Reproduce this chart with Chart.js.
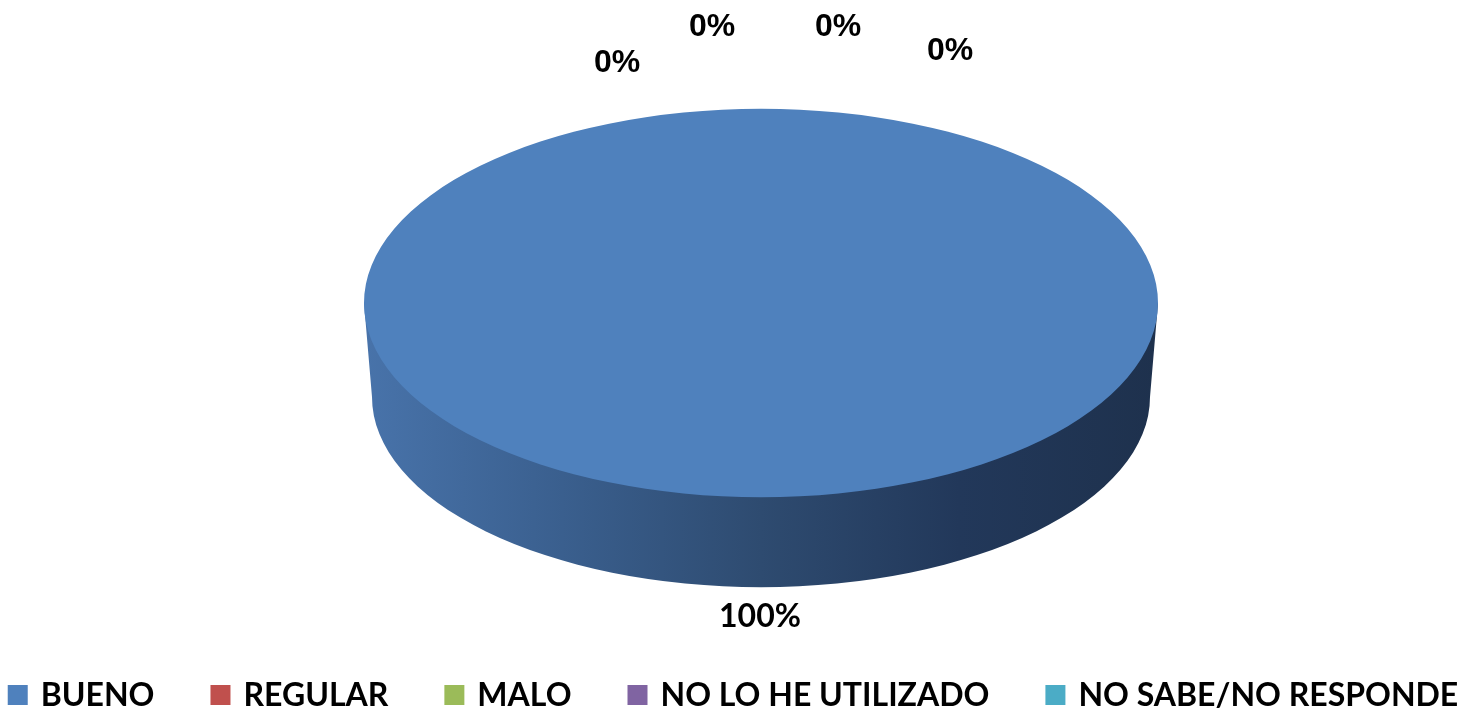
<!DOCTYPE html>
<html lang="es">
<head>
  <meta charset="UTF-8">
  <title>Gráfico circular</title>
  <script src="https://cdn.jsdelivr.net/npm/chart.js"></script>
  <style>
    body { margin: 0; background: #fff; }
    #wrap { width: 1466px; height: 711px; }
  </style>
</head>
<body>
  <div id="wrap"><canvas id="pieChart" width="1466" height="711"></canvas></div>

  <script>
    const categories = ["BUENO", "REGULAR", "MALO", "NO LO HE UTILIZADO", "NO SABE/NO RESPONDE"];
    const values = [100, 0, 0, 0, 0];
    const colors = ["#4F81BD", "#C0504D", "#9BBB59", "#8064A2", "#4BACC6"];

    // 3D look like Excel: the side wall first, then the library's arc squashed vertically
    const pie3d = {
      id: 'pie3d',
      beforeDatasetsDraw(chart, args, opts) {
        const arc = chart.getDatasetMeta(0).data[0];
        const ctx = chart.ctx;
        const r = arc.outerRadius;
        const ry = r * opts.tilt;
        const cx = opts.cx, cy = opts.cy;

        ctx.save();
        const g = ctx.createLinearGradient(cx - r, 0, cx + r, 0);
        g.addColorStop(0, '#4873AA');
        g.addColorStop(0.25, '#3A5F8E');
        g.addColorStop(0.5, '#2E4B70');
        g.addColorStop(0.75, '#22385A');
        g.addColorStop(1, '#1E314D');
        ctx.beginPath();
        ctx.moveTo(cx - r, cy);
        ctx.lineTo(cx - r + opts.shrink, cy + opts.depth);
        ctx.ellipse(cx, cy + opts.depth, r - opts.shrink, ry - opts.shrink / 2, 0, Math.PI, 0, true);
        ctx.lineTo(cx + r, cy);
        ctx.closePath();
        ctx.fillStyle = g;
        ctx.fill();

        // squash the top face
        ctx.translate(cx, cy);
        ctx.scale(1, opts.tilt);
        ctx.translate(-arc.x, -arc.y);
      },
      afterDatasetsDraw(chart) {
        chart.ctx.restore();
      }
    };

    // percentage labels, placed where Excel put them
    const pieLabels = {
      id: 'pieLabels',
      afterDraw(chart, args, opts) {
        const ctx = chart.ctx;
        const total = values.reduce((a, b) => a + b, 0);
        ctx.save();
        ctx.fillStyle = '#000';
        ctx.textAlign = 'center';
        ctx.textBaseline = 'middle';
        values.forEach((v, i) => {
          const pct = Math.round(v / total * 100) + '%';
          const [dx, dy] = opts.offsets[i];
          ctx.font = v > 0 ? 'bold 32px Lato' : 'bold 32px "Liberation Sans"';
          ctx.fillText(pct, opts.cx + dx, opts.cy + dy);
        });
        ctx.restore();
      }
    };

    // legend row at the bottom (tighter than the built-in one)
    const bottomLegend = {
      id: 'bottomLegend',
      afterDraw(chart, args, opts) {
        const ctx = chart.ctx;
        ctx.save();
        ctx.font = 'bold 32px Lato';
        ctx.textBaseline = 'middle';
        const widths = categories.map(c => ctx.measureText(c).width);
        const total = widths.reduce((a, w) => a + opts.box + opts.gap + w, 0) + opts.spacing * (categories.length - 1);
        let x = (chart.width - total) / 2;
        categories.forEach((c, i) => {
          ctx.fillStyle = colors[i];
          ctx.fillRect(x, opts.y - opts.box / 2, opts.box, opts.box);
          ctx.fillStyle = '#000';
          ctx.fillText(c, x + opts.box + opts.gap, opts.y + 1);
          x += opts.box + opts.gap + widths[i] + opts.spacing;
        });
        ctx.restore();
      }
    };

    new Chart(document.getElementById('pieChart'), {
      type: 'pie',
      data: {
        labels: categories,
        datasets: [{ data: values, backgroundColor: colors, borderWidth: 0 }]
      },
      options: {
        responsive: false,
        animation: false,
        radius: 397,
        plugins: {
          legend: { display: false },
          tooltip: { enabled: false },
          pie3d: { cx: 761, cy: 303, tilt: 0.489, depth: 94, shrink: 8 },
          pieLabels: {
            cx: 761, cy: 303,
            offsets: [[-1, 314], [-144, -240], [-49, -276], [77, -276], [189, -252]]
          },
          bottomLegend: { y: 695, box: 20, gap: 13, spacing: 56 }
        }
      },
      plugins: [pie3d, pieLabels, bottomLegend]
    });
  </script>
</body>
</html>
